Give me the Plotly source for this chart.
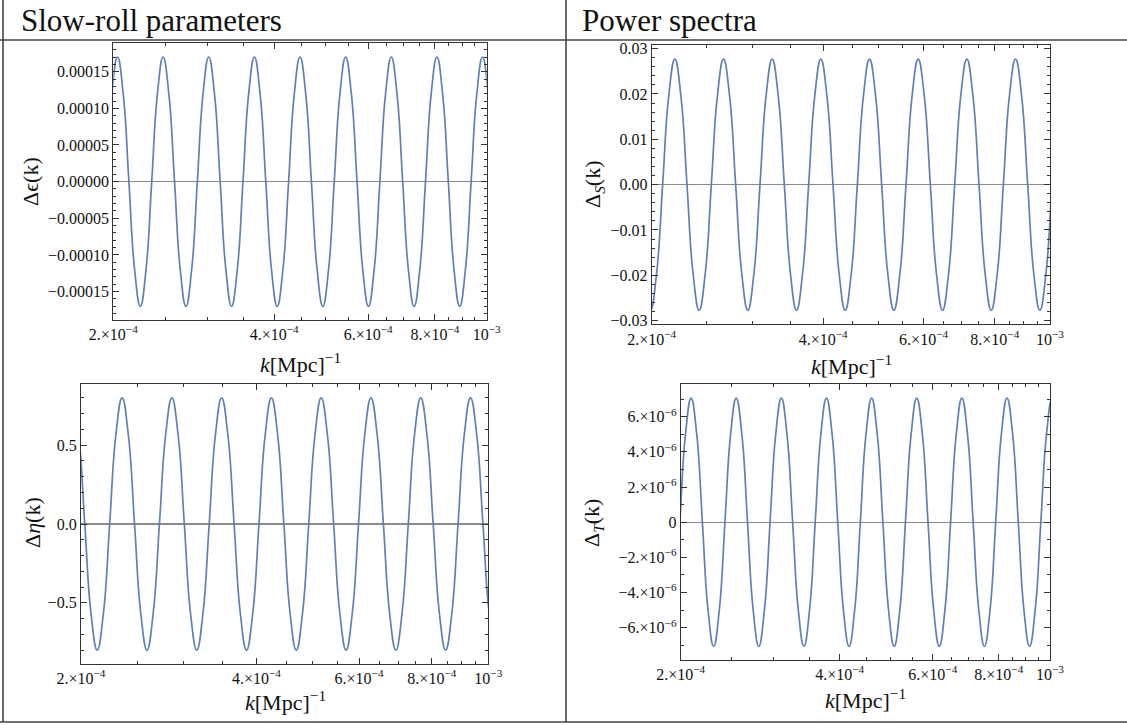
import plotly.graph_objects as go

W, H = 1127, 725

# ---------------- data (log10 of k in Mpc^-1, and values read at eighth-period key points) -------------
eps_logk = [
    -3.71246, -3.70179,
    -3.69111, -3.68043, -3.66976, -3.65908, -3.64840, -3.63773, -3.62705, -3.61637,
    -3.60570, -3.59502, -3.58434, -3.57367, -3.56299, -3.55231, -3.54164, -3.53096,
    -3.52028, -3.50961, -3.49893, -3.48825, -3.47758, -3.46690, -3.45622, -3.44555,
    -3.43487, -3.42419, -3.41351, -3.40284, -3.39216, -3.38148, -3.37081, -3.36013,
    -3.34945, -3.33878, -3.32810, -3.31742, -3.30675, -3.29607, -3.28539, -3.27472,
    -3.26404, -3.25336, -3.24269, -3.23201, -3.22133, -3.21066, -3.19998, -3.18930,
    -3.17863, -3.16795, -3.15727, -3.14660, -3.13592, -3.12524, -3.11457, -3.10389,
    -3.09321, -3.08254, -3.07186, -3.06118, -3.05051, -3.03983, -3.02915, -3.01848,
    -3.00780, -2.99712, -2.98644]
eps_vals = [
    0.0, 1.20e-4,
    1.70e-4, 1.20e-4, 0.0, -1.20e-4, -1.70e-4, -1.20e-4, 0.0, 1.20e-4,
    1.70e-4, 1.20e-4, 0.0, -1.20e-4, -1.70e-4, -1.20e-4, 0.0, 1.20e-4,
    1.70e-4, 1.20e-4, 0.0, -1.20e-4, -1.70e-4, -1.20e-4, 0.0, 1.20e-4,
    1.70e-4, 1.20e-4, 0.0, -1.20e-4, -1.70e-4, -1.20e-4, 0.0, 1.20e-4,
    1.70e-4, 1.20e-4, 0.0, -1.20e-4, -1.70e-4, -1.20e-4, 0.0, 1.20e-4,
    1.70e-4, 1.20e-4, 0.0, -1.20e-4, -1.70e-4, -1.20e-4, 0.0, 1.20e-4,
    1.70e-4, 1.20e-4, 0.0, -1.20e-4, -1.70e-4, -1.20e-4, 0.0, 1.20e-4,
    1.70e-4, 1.20e-4, 0.0, -1.20e-4, -1.70e-4, -1.20e-4, 0.0, 1.20e-4,
    1.70e-4, 1.20e-4, 0.0]

scal_logk = [
    -3.71178, -3.70111, -3.69043, -3.67975, -3.66908,
    -3.65840, -3.64772, -3.63705, -3.62637, -3.61569, -3.60502, -3.59434, -3.58366,
    -3.57299, -3.56231, -3.55163, -3.54096, -3.53028, -3.51960, -3.50893, -3.49825,
    -3.48757, -3.47690, -3.46622, -3.45554, -3.44487, -3.43419, -3.42351, -3.41284,
    -3.40216, -3.39148, -3.38080, -3.37013, -3.35945, -3.34877, -3.33810, -3.32742,
    -3.31674, -3.30607, -3.29539, -3.28471, -3.27404, -3.26336, -3.25268, -3.24201,
    -3.23133, -3.22065, -3.20998, -3.19930, -3.18862, -3.17795, -3.16727, -3.15659,
    -3.14592, -3.13524, -3.12456, -3.11389, -3.10321, -3.09253, -3.08186, -3.07118,
    -3.06050, -3.04983, -3.03915, -3.02847, -3.01780, -3.00712, -2.99644, -2.98577]
scal_vals = [
    -0.0196, -0.0277, -0.0196, 0.0, 0.0196,
    0.0277, 0.0196, 0.0, -0.0196, -0.0277, -0.0196, 0.0, 0.0196,
    0.0277, 0.0196, 0.0, -0.0196, -0.0277, -0.0196, 0.0, 0.0196,
    0.0277, 0.0196, 0.0, -0.0196, -0.0277, -0.0196, 0.0, 0.0196,
    0.0277, 0.0196, 0.0, -0.0196, -0.0277, -0.0196, 0.0, 0.0196,
    0.0277, 0.0196, 0.0, -0.0196, -0.0277, -0.0196, 0.0, 0.0196,
    0.0277, 0.0196, 0.0, -0.0196, -0.0277, -0.0196, 0.0, 0.0196,
    0.0277, 0.0196, 0.0, -0.0196, -0.0277, -0.0196, 0.0, 0.0196,
    0.0277, 0.0196, 0.0, -0.0196, -0.0277, -0.0196, 0.0, 0.0196]

eta_logk = [
    -3.71385, -3.70318, -3.69250, -3.68182, -3.67115, -3.66047, -3.64979, -3.63912,
    -3.62844, -3.61776, -3.60709, -3.59641, -3.58573, -3.57506, -3.56438, -3.55370,
    -3.54303, -3.53235, -3.52167, -3.51100, -3.50032, -3.48964, -3.47897, -3.46829,
    -3.45761, -3.44694, -3.43626, -3.42558, -3.41491, -3.40423, -3.39355, -3.38288,
    -3.37220, -3.36152, -3.35084, -3.34017, -3.32949, -3.31881, -3.30814, -3.29746,
    -3.28678, -3.27611, -3.26543, -3.25475, -3.24408, -3.23340, -3.22272, -3.21205,
    -3.20137, -3.19069, -3.18002, -3.16934, -3.15866, -3.14799, -3.13731, -3.12663,
    -3.11596, -3.10528, -3.09460, -3.08393, -3.07325, -3.06257, -3.05190, -3.04122,
    -3.03054, -3.01987, -3.00919, -2.99851, -2.98784]
eta_vals = [
    0.80, 0.566, 0.0, -0.566, -0.80, -0.566, 0.0, 0.566,
    0.80, 0.566, 0.0, -0.566, -0.80, -0.566, 0.0, 0.566,
    0.80, 0.566, 0.0, -0.566, -0.80, -0.566, 0.0, 0.566,
    0.80, 0.566, 0.0, -0.566, -0.80, -0.566, 0.0, 0.566,
    0.80, 0.566, 0.0, -0.566, -0.80, -0.566, 0.0, 0.566,
    0.80, 0.566, 0.0, -0.566, -0.80, -0.566, 0.0, 0.566,
    0.80, 0.566, 0.0, -0.566, -0.80, -0.566, 0.0, 0.566,
    0.80, 0.566, 0.0, -0.566, -0.80, -0.566, 0.0, 0.566,
    0.80, 0.566, 0.0, -0.566, -0.80]

tens_logk = [
    -3.71132, -3.70064, -3.68997,
    -3.67929, -3.66861, -3.65794, -3.64726, -3.63658, -3.62591, -3.61523, -3.60455,
    -3.59388, -3.58320, -3.57252, -3.56185, -3.55117, -3.54049, -3.52982, -3.51914,
    -3.50846, -3.49779, -3.48711, -3.47643, -3.46576, -3.45508, -3.44440, -3.43373,
    -3.42305, -3.41237, -3.40169, -3.39102, -3.38034, -3.36966, -3.35899, -3.34831,
    -3.33763, -3.32696, -3.31628, -3.30560, -3.29493, -3.28425, -3.27357, -3.26290,
    -3.25222, -3.24154, -3.23087, -3.22019, -3.20951, -3.19884, -3.18816, -3.17748,
    -3.16681, -3.15613, -3.14545, -3.13478, -3.12410, -3.11342, -3.10275, -3.09207,
    -3.08139, -3.07072, -3.06004, -3.04936, -3.03869, -3.02801, -3.01733, -3.00666,
    -2.99598, -2.98530]
tens_vals = [
    -4.99e-6, 0.0, 4.99e-6,
    7.06e-6, 4.99e-6, 0.0, -4.99e-6, -7.06e-6, -4.99e-6, 0.0, 4.99e-6,
    7.06e-6, 4.99e-6, 0.0, -4.99e-6, -7.06e-6, -4.99e-6, 0.0, 4.99e-6,
    7.06e-6, 4.99e-6, 0.0, -4.99e-6, -7.06e-6, -4.99e-6, 0.0, 4.99e-6,
    7.06e-6, 4.99e-6, 0.0, -4.99e-6, -7.06e-6, -4.99e-6, 0.0, 4.99e-6,
    7.06e-6, 4.99e-6, 0.0, -4.99e-6, -7.06e-6, -4.99e-6, 0.0, 4.99e-6,
    7.06e-6, 4.99e-6, 0.0, -4.99e-6, -7.06e-6, -4.99e-6, 0.0, 4.99e-6,
    7.06e-6, 4.99e-6, 0.0, -4.99e-6, -7.06e-6, -4.99e-6, 0.0, 4.99e-6,
    7.06e-6, 4.99e-6, 0.0, -4.99e-6, -7.06e-6, -4.99e-6, 0.0, 4.99e-6,
    7.06e-6, 4.99e-6]

x_tickvals = [2e-4, 4e-4, 6e-4, 8e-4, 1e-3]
x_ticktext = ["2.\u00d710<sup>\u22124</sup>", "4.\u00d710<sup>\u22124</sup>", "6.\u00d710<sup>\u22124</sup>",
              "8.\u00d710<sup>\u22124</sup>", "10<sup>\u22123</sup>"]
x_minor = [2.5e-4, 3e-4, 3.5e-4, 4.5e-4, 5e-4, 5.5e-4, 6.5e-4, 7e-4, 7.5e-4, 8.5e-4, 9e-4, 9.5e-4]

eps_ticks = [1.5e-4, 1e-4, 5e-5, 0.0, -5e-5, -1e-4, -1.5e-4]
eps_text = ["0.00015", "0.00010", "0.00005", "0.00000", "\u22120.00005", "\u22120.00010", "\u22120.00015"]
scal_ticks = [0.03, 0.02, 0.01, 0.0, -0.01, -0.02, -0.03]
scal_text = ["0.03", "0.02", "0.01", "0.00", "\u22120.01", "\u22120.02", "\u22120.03"]
eta_ticks = [0.5, 0.0, -0.5]
eta_text = ["0.5", "0.0", "\u22120.5"]
tens_ticks = [6e-6, 4e-6, 2e-6, 0.0, -2e-6, -4e-6, -6e-6]
tens_text = ["6.\u00d710<sup>\u22126</sup>", "4.\u00d710<sup>\u22126</sup>", "2.\u00d710<sup>\u22126</sup>", "0",
             "\u22122.\u00d710<sup>\u22126</sup>", "\u22124.\u00d710<sup>\u22126</sup>", "\u22126.\u00d710<sup>\u22126</sup>"]

# ---------------- layout helpers ----------------
FONT = "Liberation Serif"
LINE = "#5E81B5"
FRAME = "#333333"


def px_x(p):
    return p / W


def px_y(p):
    return 1 - p / H


# panel frames in pixels: (left, right, top, bottom)
panels = {
    "TL": (113.3, 486.7, 43.3, 320.0),
    "TR": (651.7, 1050.0, 45.0, 324.3),
    "BL": (81.0, 488.3, 384.0, 664.0),
    "BR": (680.7, 1050.0, 384.0, 660.0),
}

series = [
    ("TL", eps_logk, eps_vals, [-1.887e-4, 1.887e-4], eps_ticks, eps_text, 1e-5),
    ("TR", scal_logk, scal_vals, [-0.0308, 0.0308], scal_ticks, scal_text, 0.002),
    ("BL", eta_logk, eta_vals, [-0.888, 0.888], eta_ticks, eta_text, 0.1),
    ("BR", tens_logk, tens_vals, [-7.84e-6, 7.86e-6], tens_ticks, tens_text, 1e-6),
]

fig = go.Figure()
layout = dict(
    template="none",
    width=W, height=H, margin=dict(l=0, r=0, t=0, b=0, pad=0, autoexpand=False),
    paper_bgcolor="white", plot_bgcolor="white", showlegend=False,
    font=dict(family=FONT, size=16, color="#111"),
)

for i, (key, lk, vals, yr, yt, ytt, ydt) in enumerate(series, start=1):
    l, r, t, b = panels[key]
    xa = "xaxis" if i == 1 else f"xaxis{i}"
    ya = "yaxis" if i == 1 else f"yaxis{i}"
    xs = "x" if i == 1 else f"x{i}"
    ys = "y" if i == 1 else f"y{i}"
    fig.add_trace(go.Scatter(
        x=[10 ** v for v in lk], y=vals, mode="lines", xaxis=xs, yaxis=ys,
        line=dict(color=LINE, width=1.7, shape="spline", smoothing=1.3),
        hoverinfo="skip"))
    layout[xa] = dict(
        domain=[px_x(l), px_x(r)], anchor=ys, type="log", automargin=False,
        range=[-3.69897, -3.0], tickmode="array", tickvals=x_tickvals, ticktext=x_ticktext,
        ticks="inside", ticklen=6, tickwidth=1, tickcolor=FRAME,
        showline=True, linecolor=FRAME, linewidth=1, mirror="ticks",
        showgrid=False, zeroline=False, tickfont=dict(size=16, family=FONT, color="#111"),
        minor=dict(tickmode="array", tickvals=x_minor, ticks="inside", ticklen=3,
                   tickcolor=FRAME, showgrid=False),
    )
    layout[ya] = dict(
        domain=[px_y(b), px_y(t)], anchor=xs, range=yr, automargin=False,
        tickmode="array", tickvals=yt, ticktext=ytt,
        ticks="inside", ticklen=6, tickwidth=1, tickcolor=FRAME,
        showline=True, linecolor=FRAME, linewidth=1, mirror="ticks",
        showgrid=False, zeroline=True, zerolinecolor="#8a8a8a", zerolinewidth=1.2,
        tickfont=dict(size=16, family=FONT, color="#111"),
        minor=dict(dtick=ydt, tick0=0, ticks="inside", ticklen=3, tickcolor=FRAME, showgrid=False),
    )

fig.update_layout(**layout)

# ---------------- text ----------------
ann = []


def add_text(text, x, y, size, angle=0, xanchor="center"):
    ann.append(dict(text=text, x=px_x(x), y=px_y(y), xref="paper", yref="paper",
                    showarrow=False, textangle=angle, xanchor=xanchor, yanchor="middle",
                    font=dict(family=FONT, size=size, color="#111")))


add_text("Slow-roll parameters", 19, 20, 31, xanchor="left")
add_text("Power spectra", 580, 20, 31, xanchor="left")

xt = "<i>k</i>[Mpc]<sup>\u22121</sup>"
add_text(xt, 300, 363, 22)
add_text(xt, 851, 365, 22)
add_text(xt, 285, 701, 22)
add_text(xt, 865, 699, 22)

add_text("\u0394\u03f5(k)", 31, 182, 22, angle=-90)
add_text("\u0394<sub><i>S</i></sub>(k)", 594, 184, 22, angle=-90)
add_text("\u0394<i>\u03b7</i>(k)", 32, 523, 22, angle=-90)
add_text("\u0394<sub><i>T</i></sub>(k)", 593, 523, 22, angle=-90)

# table rules
shapes = []
rule = dict(color="#444444", width=1.6)
shapes.append(dict(type="line", xref="paper", yref="paper", x0=px_x(3), x1=px_x(3), y0=px_y(0), y1=px_y(722), line=rule))
shapes.append(dict(type="line", xref="paper", yref="paper", x0=px_x(566), x1=px_x(566), y0=px_y(0), y1=px_y(722), line=rule))
shapes.append(dict(type="line", xref="paper", yref="paper", x0=0, x1=1, y0=px_y(40), y1=px_y(40), line=rule))
shapes.append(dict(type="line", xref="paper", yref="paper", x0=0, x1=1, y0=px_y(722), y1=px_y(722), line=rule))

fig.update_layout(annotations=ann, shapes=shapes)

fig.write_html("out.html", config={"displayModeBar": False, "staticPlot": True},
               post_script="document.body.style.margin='0px';document.body.style.overflow='hidden';")
